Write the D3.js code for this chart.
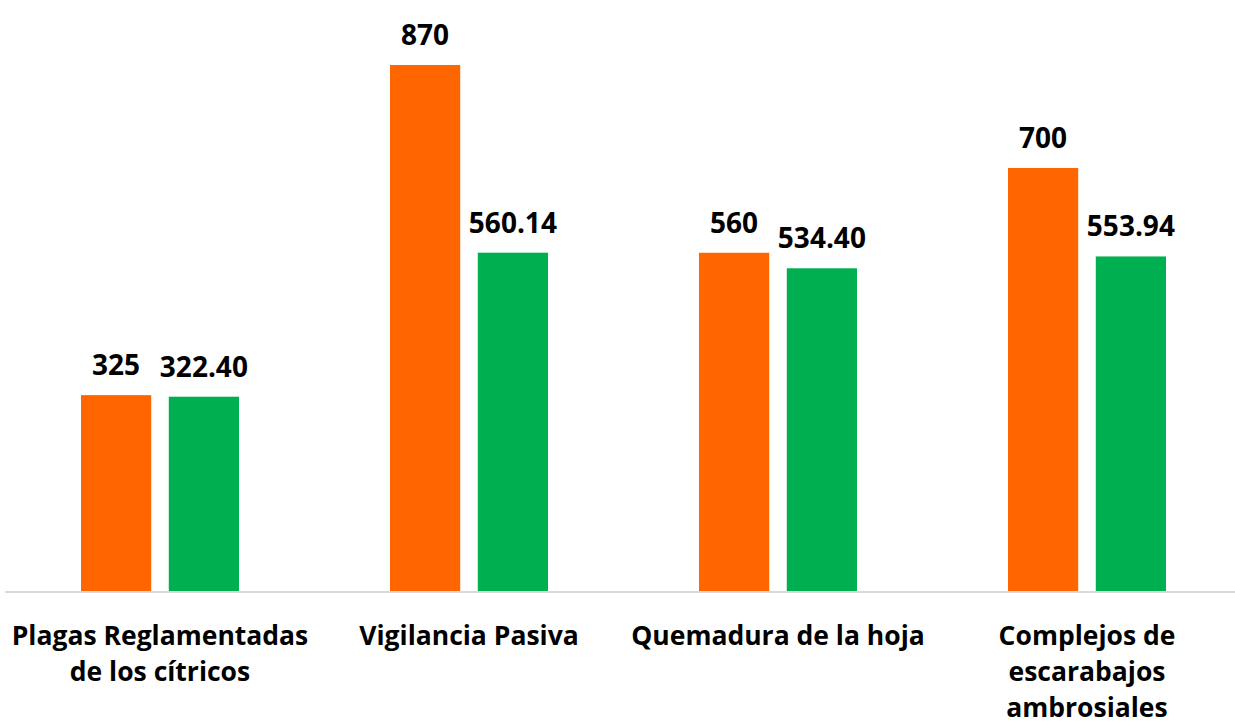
<!DOCTYPE html>
<html><head><meta charset="utf-8">
<script src="https://cdn.jsdelivr.net/npm/d3@7"></script>
<style>body{margin:0;background:#fff}svg{display:block}</style>
</head><body>
<svg id="c" width="1235" height="725"></svg>
<script>
const categories = [["Plagas Reglamentadas","de los cítricos"],["Vigilancia Pasiva"],["Quemadura de la hoja"],["Complejos de","escarabajos","ambrosiales"]];
const seriesNames = ["Meta","Alcanzado"];
const seriesA = [325, 870, 560, 700];
const seriesB = [322.40, 560.14, 534.40, 553.94];
const labelsA = ["325","870","560","700"];
const labelsB = ["322.40","560.14","534.40","553.94"];
const colors = ["#FF6600","#00B050"];

const svg = d3.select("#c");
const W = 1235, base = 592;
const x0 = d3.scaleBand().domain(d3.range(categories.length)).range([5.5, 1241.5]).paddingInner(0).paddingOuter(0);
const x1 = d3.scaleBand().domain([0,1]).range([0, 158]).paddingInner(0.2);
const xOff = (x0.bandwidth() - 158) / 2;
const y = d3.scaleLinear().domain([0, 870]).range([base, 65]);

const font = "'Open Sans', Lato, sans-serif";
const g = svg.append("g");
const series = [seriesA, seriesB];
const labels = [labelsA, labelsB];
series.forEach((vals, s) => {
  g.selectAll(".b"+s).data(vals).enter().append("rect")
    .attr("x", (d,i) => x0(i) + xOff + x1(s))
    .attr("width", x1.bandwidth())
    .attr("y", d => y(d))
    .attr("height", d => base - y(d))
    .attr("fill", colors[s]);
  g.selectAll(".l"+s).data(vals).enter().append("text")
    .attr("x", (d,i) => x0(i) + xOff + x1(s) + x1.bandwidth()/2)
    .attr("y", d => y(d) - 20)
    .attr("text-anchor","middle")
    .attr("font-family", font).attr("font-weight","bold").attr("font-size", 28)
    .attr("fill","#000")
    .text((d,i) => labels[s][i]);
});

svg.append("line").attr("x1",5).attr("x2",W).attr("y1",base).attr("y2",base)
  .attr("stroke","#d9d9d9").attr("stroke-width",2);

categories.forEach((lines, i) => {
  const t = svg.append("text")
    .attr("text-anchor","middle")
    .attr("font-family", font).attr("font-weight","bold").attr("font-size", 26.5)
    .attr("fill","#000");
  lines.forEach((ln, k) => {
    t.append("tspan").attr("x", x0(i) + x0.bandwidth()/2).attr("y", 645 + k*36).text(ln);
  });
});
</script>
</body></html>
